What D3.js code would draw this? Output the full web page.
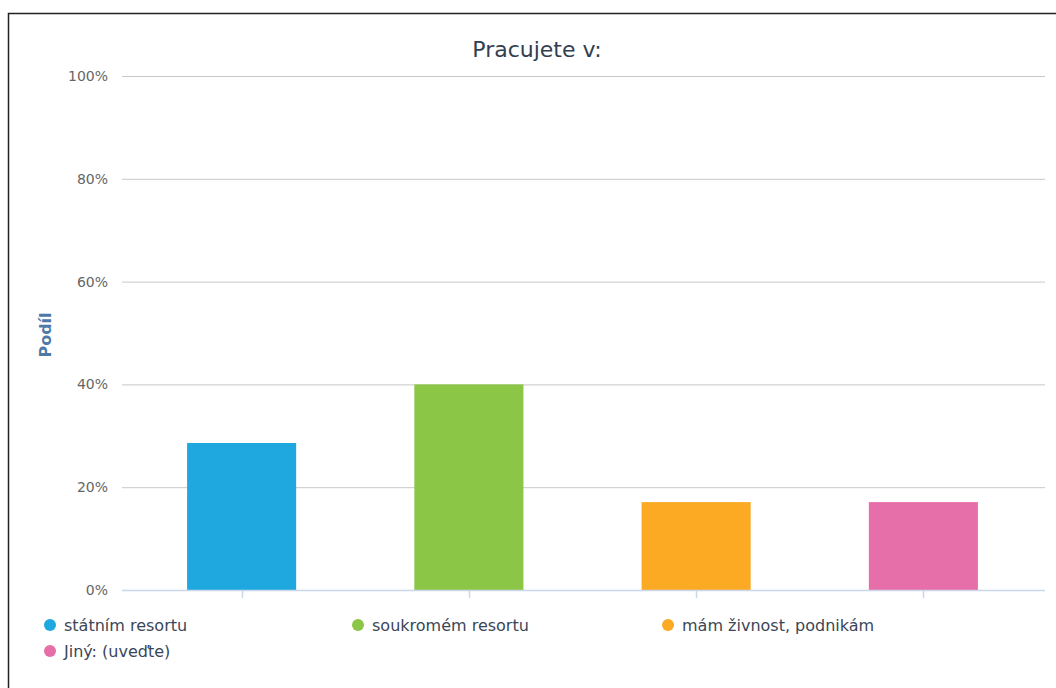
<!DOCTYPE html>
<html>
<head>
<meta charset="utf-8">
<script src="https://cdn.jsdelivr.net/npm/d3@7"></script>
<style>
  body { margin: 0; background: #fff; }
  svg { display: block; font-family: "DejaVu Sans", sans-serif; }
</style>
</head>
<body>
<svg width="1056" height="688"></svg>
<script>
const categories = ['státním resortu', 'soukromém resortu', 'mám živnost, podnikám', 'Jiný: (uveďte)'];
const values = [28.6, 40.0, 17.1, 17.1];
const colors = ['#1fa8e0', '#8bc646', '#fca924', '#e76fa9'];
const yTicks = [0, 20, 40, 60, 80, 100];

const svg = d3.select('svg');

// outer frame
svg.append('rect')
  .attr('x', 8.5).attr('y', 13.5)
  .attr('width', 1100).attr('height', 700)
  .attr('fill', 'none').attr('stroke', '#222').attr('stroke-width', 1.5);

const plot = { left: 122, right: 1045, top: 76, bottom: 590 };

const xScale = d3.scaleBand()
  .domain(categories)
  .range([128, 1037])
  .paddingInner(0.52)
  .paddingOuter(0.26);

const yScale = d3.scaleLinear()
  .domain([0, 100])
  .range([plot.bottom, plot.top]);

// gridlines + labels
const yAxis = d3.axisLeft(yScale)
  .tickValues(yTicks)
  .tickSize(-(plot.right - plot.left))
  .tickPadding(14)
  .tickFormat(d => d + '%');
const yAxisG = svg.append('g')
  .attr('transform', `translate(${plot.left},0)`)
  .call(yAxis)
  .attr('font-size', 14)
  .attr('font-family', null);
yAxisG.select('.domain').remove();
yAxisG.selectAll('.tick line').attr('stroke', '#c8c8c8').attr('stroke-width', 1);
yAxisG.selectAll('.tick text').attr('fill', '#666');

// bars
svg.append('g')
  .selectAll('rect')
  .data(categories).enter()
  .append('rect')
    .attr('x', d => xScale(d))
    .attr('y', (d, i) => yScale(values[i]))
    .attr('width', xScale.bandwidth())
    .attr('height', (d, i) => plot.bottom - yScale(values[i]))
    .attr('fill', (d, i) => colors[i]);

// x axis line and ticks
svg.append('line')
  .attr('x1', plot.left).attr('x2', plot.right)
  .attr('y1', plot.bottom + 0.5).attr('y2', plot.bottom + 0.5)
  .attr('stroke', '#ccd6eb').attr('stroke-width', 1.5);
svg.append('g')
  .selectAll('line')
  .data(categories).enter()
  .append('line')
    .attr('x1', d => Math.round(xScale(d) + xScale.bandwidth() / 2) + 0.5)
    .attr('x2', d => Math.round(xScale(d) + xScale.bandwidth() / 2) + 0.5)
    .attr('y1', plot.bottom).attr('y2', plot.bottom + 8)
    .attr('stroke', '#ccd6eb').attr('stroke-width', 1.5);

// title
svg.append('text')
  .attr('x', 537).attr('y', 57)
  .attr('text-anchor', 'middle')
  .attr('fill', '#333e50')
  .style('font-size', '22px')
  .text('Pracujete v:');

// y axis title
svg.append('text')
  .attr('transform', 'translate(51,335) rotate(-90)')
  .attr('text-anchor', 'middle')
  .attr('fill', '#4d79a8')
  .style('font-size', '16px')
  .style('font-weight', 'bold')
  .text('Podíl');

// legend
const legendPos = [[50, 625], [358, 625], [668, 625], [50, 651]];
const legend = svg.append('g')
  .selectAll('g')
  .data(categories).enter()
  .append('g')
    .attr('transform', (d, i) => `translate(${legendPos[i][0]},${legendPos[i][1]})`);
legend.append('circle')
  .attr('r', 6)
  .attr('fill', (d, i) => colors[i]);
legend.append('text')
  .attr('x', 14).attr('dy', '0.35em')
  .attr('fill', '#3a4658')
  .style('font-size', '16px')
  .text(d => d);
</script>
</body>
</html>
